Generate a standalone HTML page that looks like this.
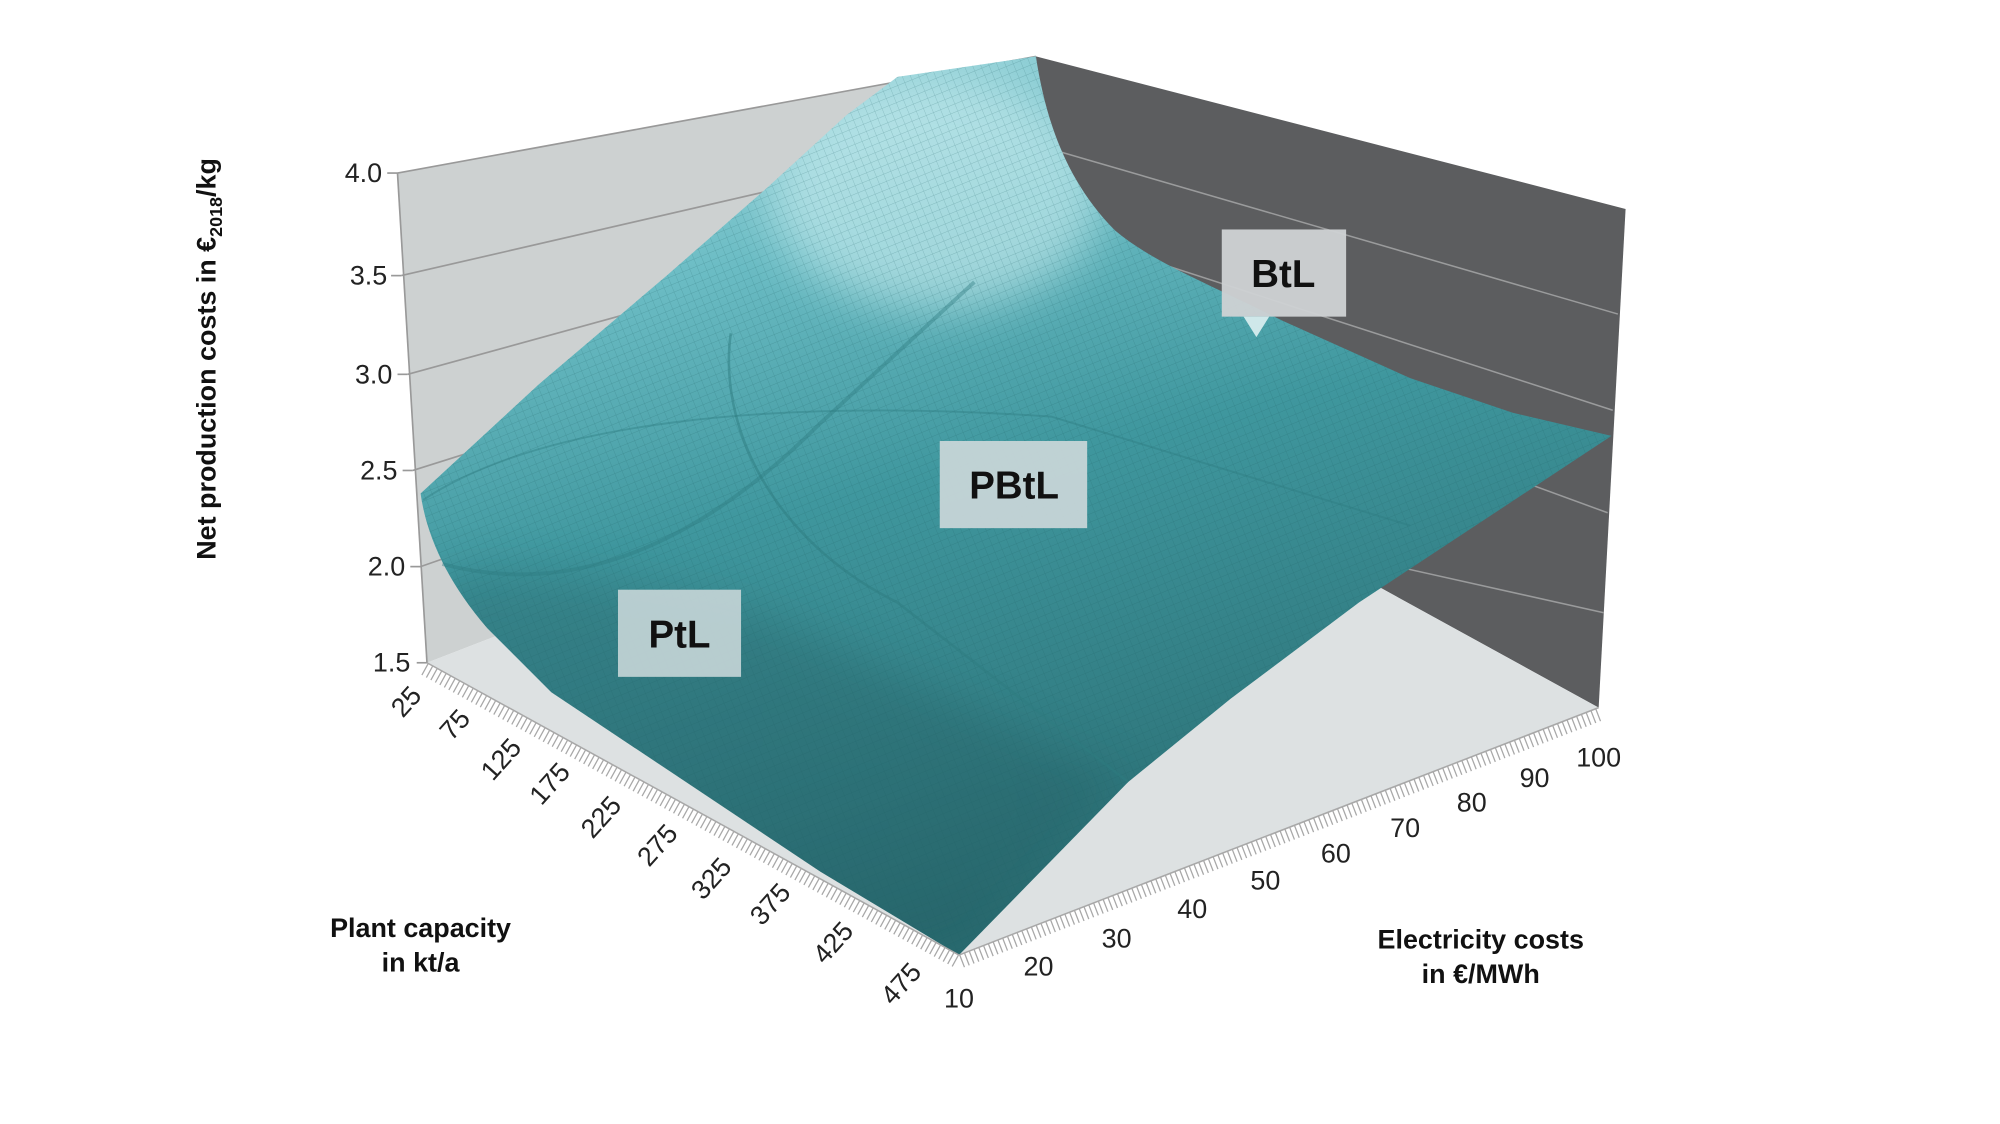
<!DOCTYPE html>
<html><head><meta charset="utf-8"><style>
html,body{margin:0;padding:0;background:#fff;}
svg{display:block;}
text{font-family:"Liberation Sans",sans-serif;}
</style></head><body>
<svg width="2000" height="1124" viewBox="0 0 1560 876.8" xmlns="http://www.w3.org/2000/svg">
<defs>
<linearGradient id="sg" x1="0" y1="0" x2="0.3" y2="1">
<stop offset="0" stop-color="#b5e3e8"/>
<stop offset="0.3" stop-color="#6bbcc4"/>
<stop offset="0.55" stop-color="#3f979e"/>
<stop offset="1" stop-color="#2a6d72"/>
</linearGradient>
<pattern id="mesh" width="6" height="6" patternUnits="userSpaceOnUse" patternTransform="rotate(-22)">
<path d="M0 0H6M0 0V6" stroke="#1d5d62" stroke-width="0.5" fill="none" opacity="0.35"/>
</pattern>
<filter id="bl" x="-20%" y="-20%" width="140%" height="140%"><feGaussianBlur stdDeviation="18"/></filter>
</defs>
<polygon points="310,135 808,44 832,324 333,517" fill="#cdd1d1"/>
<polygon points="808,44 1268,163 1247,552 832,324" fill="#5c5d5f"/>
<polygon points="333,517 832,324 1247,552 748,745" fill="#dde1e2"/>
<g stroke="#999" stroke-width="1.3" fill="none">
<line x1="310" y1="135" x2="808" y2="44"/>
<line x1="313" y1="215" x2="812" y2="100"/>
<line x1="318" y1="292" x2="816" y2="155"/>
<line x1="322" y1="367" x2="820" y2="210"/>
<line x1="328" y1="442" x2="826" y2="268"/>
<line x1="310" y1="135" x2="333" y2="517"/>
<line x1="302" y1="135" x2="310" y2="135"/><line x1="305" y1="215" x2="313" y2="215"/>
<line x1="310" y1="292" x2="318" y2="292"/><line x1="314" y1="367" x2="322" y2="367"/>
<line x1="320" y1="442" x2="328" y2="442"/><line x1="325" y1="517" x2="333" y2="517"/>
</g>
<g stroke="#9a9b9c" stroke-width="1.2" fill="none">
<line x1="822" y1="117" x2="1262" y2="245"/>
<line x1="826" y1="180" x2="1258" y2="320"/>
<line x1="830" y1="245" x2="1254" y2="400"/>
<line x1="1000" y1="422" x2="1251" y2="478"/>
</g>
<clipPath id="sc"><path id="sp" d="M328,385 L420,300 L520,215 L600,145 L660,90 L700,60 L808,44 C815,90 830,140 870,180 C900,205 940,220 1000,250 L1100,295 L1180,322 L1257,340 L1060,470 L960,545 L880,610 L748,745 L640,680 L520,600 L430,540 L380,490 C350,455 333,420 328,385 Z"/></clipPath>
<g clip-path="url(#sc)">
<rect x="300" y="30" width="980" height="730" fill="url(#sg)"/>
<ellipse cx="730" cy="150" rx="130" ry="90" fill="#d6f3f5" opacity="0.55" filter="url(#bl)"/>
<path d="M340,450 C420,440 520,455 600,480 L880,610 L748,745 L300,760 Z" fill="#23595d" opacity="0.3" filter="url(#bl)"/>
<rect x="300" y="30" width="980" height="730" fill="url(#mesh)"/>
</g>
<path d="M570,260 C560,330 600,420 700,470 L880,610" stroke="#2e7b80" stroke-width="2" fill="none" opacity="0.5"/>
<path d="M345,440 C420,460 520,450 640,330 L760,220" stroke="#2e7b80" stroke-width="3" fill="none" opacity="0.4"/>
<path d="M330,390 C420,330 600,310 820,325 L1100,410" stroke="#2e7b80" stroke-width="1.5" fill="none" opacity="0.4"/>
<g stroke="#a8a8a8" fill="none">
<line x1="333" y1="517" x2="748" y2="745" stroke-width="1.2"/>
<line x1="748" y1="745" x2="1247" y2="552" stroke-width="1.2"/>
<line x1="331" y1="522" x2="746" y2="750" stroke-width="10" stroke-dasharray="1 3"/>
<line x1="750" y1="750" x2="1249" y2="557" stroke-width="10" stroke-dasharray="1 3"/>
</g>
<g font-size="21" fill="#222" text-anchor="end">
<text x="298" y="142">4.0</text>
<text x="302" y="222">3.5</text>
<text x="306" y="299">3.0</text>
<text x="310" y="374">2.5</text>
<text x="316" y="449">2.0</text>
<text x="320" y="524">1.5</text>
</g>
<g font-size="21" fill="#222" text-anchor="middle">
<text transform="translate(322,552) rotate(-48)">25</text>
<text transform="translate(360,570) rotate(-48)">75</text>
<text transform="translate(396,597) rotate(-48)">125</text>
<text transform="translate(434,616) rotate(-48)">175</text>
<text transform="translate(474,642) rotate(-48)">225</text>
<text transform="translate(518,664) rotate(-48)">275</text>
<text transform="translate(560,690) rotate(-48)">325</text>
<text transform="translate(606,710) rotate(-48)">375</text>
<text transform="translate(655,740) rotate(-48)">425</text>
<text transform="translate(708,772) rotate(-48)">475</text>
</g>
<g font-size="21" fill="#222" text-anchor="middle">
<text x="748" y="786">10</text>
<text x="810" y="761">20</text>
<text x="871" y="739">30</text>
<text x="930" y="716">40</text>
<text x="987" y="694">50</text>
<text x="1042" y="673">60</text>
<text x="1096" y="653">70</text>
<text x="1148" y="633">80</text>
<text x="1197" y="614">90</text>
<text x="1247" y="598">100</text>
</g>
<text transform="translate(168,280) rotate(-90)" font-size="21" font-weight="bold" text-anchor="middle" fill="#111">Net production costs in €<tspan font-size="14" dy="5">2018</tspan><tspan dy="-5">/kg</tspan></text>
<g font-size="21" font-weight="bold" fill="#111" text-anchor="middle">
<text x="328" y="731">Plant capacity</text>
<text x="328" y="758">in kt/a</text>
<text x="1155" y="740">Electricity costs</text>
<text x="1155" y="767">in €/MWh</text>
</g>
<g>
<rect x="953" y="179" width="97" height="68" fill="#cfd2d4" opacity="0.95"/>
<polygon points="970,247 990,247 980,263" fill="#cfe8ea"/>
<text x="1001" y="224" font-size="30" font-weight="bold" text-anchor="middle" fill="#111">BtL</text>
<rect x="733" y="344" width="115" height="68" fill="#c9d6d8" opacity="0.93"/>
<text x="791" y="389" font-size="30" font-weight="bold" text-anchor="middle" fill="#111">PBtL</text>
<rect x="482" y="460" width="96" height="68" fill="#c2d3d5" opacity="0.93"/>
<text x="530" y="505" font-size="30" font-weight="bold" text-anchor="middle" fill="#111">PtL</text>
</g>
</svg>
</body></html>
